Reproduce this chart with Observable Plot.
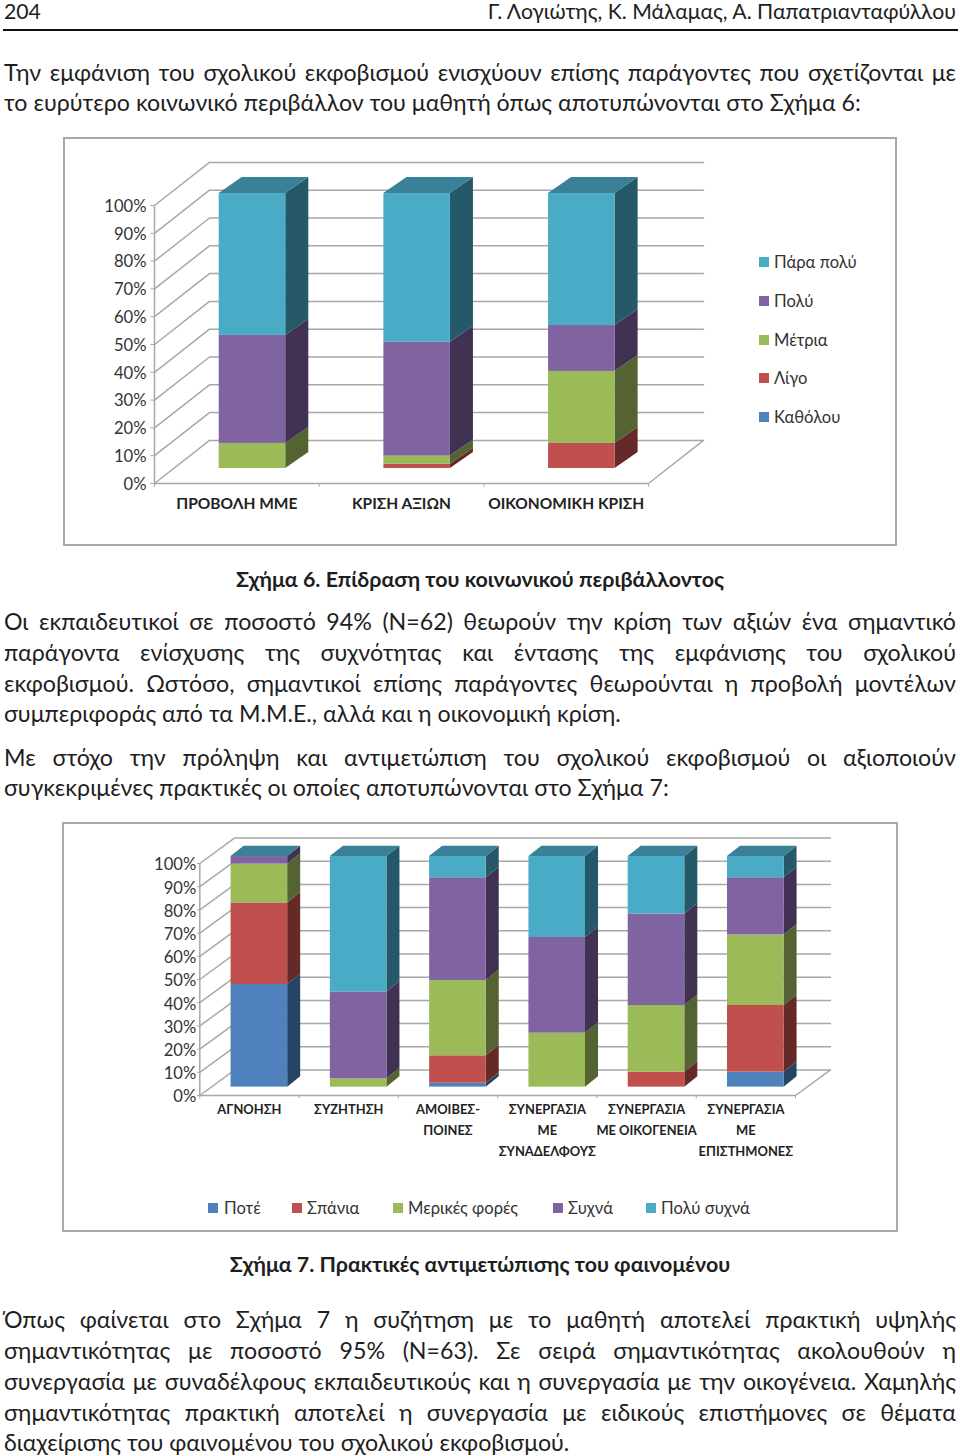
<!DOCTYPE html>
<html lang="el"><head><meta charset="utf-8">
<script src="https://cdn.jsdelivr.net/npm/d3@7"></script>
<script src="https://cdn.jsdelivr.net/npm/@observablehq/plot@0.6"></script>
<style>
html,body{margin:0;padding:0;background:#fff;}
body{position:relative;width:960px;height:1456px;overflow:hidden;font-family:Lato,"Open Sans",sans-serif;color:#1e1e1e;}
.l{position:absolute;left:4px;width:952px;white-space:nowrap;font-size:23.2px;line-height:30px;text-align:justify;text-align-last:justify;}
.n{text-align-last:left;}
.h{font-size:21.2px;line-height:22px;top:0;}
.c{text-align-last:center;font-weight:700;font-size:21.4px;}
.frame{position:absolute;box-sizing:border-box;border:2px solid #a9a9a9;background:#fff;}
.chart{position:absolute;}
.chart svg{display:block;overflow:visible;background:transparent;}
.sw{position:absolute;width:10px;height:10px;}
.lt{position:absolute;font-size:16.6px;line-height:20px;white-space:nowrap;color:#333;}
</style></head><body>
<div class="l n h">204</div>
<div class="l n h" style="text-align-last:right">Γ. Λογιώτης, Κ. Μάλαμας, Α. Παπατριανταφύλλου</div>
<div style="position:absolute;left:3px;top:29px;width:955px;height:2px;background:#111"></div>
<div class="l" style="top:57px">Την εμφάνιση του σχολικού εκφοβισμού ενισχύουν επίσης παράγοντες που σχετίζονται με</div>
<div class="l n" style="top:87px">το ευρύτερο κοινωνικό περιβάλλον του μαθητή όπως αποτυπώνονται στο Σχήμα 6:</div>
<div class="frame" style="left:63px;top:137px;width:834px;height:409px"></div>
<div class="chart" id="chart6" style="left:63px;top:137px"></div>
<div id="legend6"></div>
<div class="l c" style="top:564px">Σχήμα 6. Επίδραση του κοινωνικού περιβάλλοντος</div>
<div class="l" style="top:606px">Οι εκπαιδευτικοί σε ποσοστό 94% (Ν=62) θεωρούν την κρίση των αξιών ένα σημαντικό</div>
<div class="l" style="top:637px">παράγοντα ενίσχυσης της συχνότητας και έντασης της εμφάνισης του σχολικού</div>
<div class="l" style="top:668px">εκφοβισμού. Ωστόσο, σημαντικοί επίσης παράγοντες θεωρούνται η προβολή μοντέλων</div>
<div class="l n" style="top:698px">συμπεριφοράς από τα Μ.Μ.Ε., αλλά και η οικονομική κρίση.</div>
<div class="l" style="top:742px">Με στόχο την πρόληψη και αντιμετώπιση του σχολικού εκφοβισμού οι αξιοποιούν</div>
<div class="l n" style="top:772px">συγκεκριμένες πρακτικές οι οποίες αποτυπώνονται στο Σχήμα 7:</div>
<div class="frame" style="left:62px;top:822px;width:836px;height:410px"></div>
<div class="chart" id="chart7" style="left:62px;top:822px"></div>
<div id="legend7"></div>
<div class="l c" style="top:1249px">Σχήμα 7. Πρακτικές αντιμετώπισης του φαινομένου</div>
<div class="l" style="top:1304px">Όπως φαίνεται στο Σχήμα 7 η συζήτηση με το μαθητή αποτελεί πρακτική υψηλής</div>
<div class="l" style="top:1335px">σημαντικότητας με ποσοστό 95% (Ν=63). Σε σειρά σημαντικότητας ακολουθούν η</div>
<div class="l" style="top:1366px">συνεργασία με συναδέλφους εκπαιδευτικούς και η συνεργασία με την οικογένεια. Χαμηλής</div>
<div class="l" style="top:1397px">σημαντικότητας πρακτική αποτελεί η συνεργασία με ειδικούς επιστήμονες σε θέματα</div>
<div class="l n" style="top:1427px">διαχείρισης του φαινομένου του σχολικού εκφοβισμού.</div>
<script>
// ---- Palette (one shade per series, bottom of the stack first)
const frontColors = ["#4f81bd", "#c0504d", "#9bbb59", "#8064a2", "#4aabc6"];
const sideColors  = ["#254565", "#652a28", "#536331", "#413153", "#25596a"];
const topColor = "#3a8099";
const gridColor = "#a8a8a8";
const yTicks = [0, 10, 20, 30, 40, 50, 60, 70, 80, 90, 100];

// ---- Figure 6
const fig6Categories = ["ΠΡΟΒΟΛΗ ΜΜΕ", "ΚΡΙΣΗ ΑΞΙΩΝ", "ΟΙΚΟΝΟΜΙΚΗ ΚΡΙΣΗ"];
const fig6Series = ["Καθόλου", "Λίγο", "Μέτρια", "Πολύ", "Πάρα πολύ"];
const fig6Katholou = [0, 0, 0];
const fig6Ligo     = [0, 1.5, 9.1];
const fig6Metria   = [9.1, 3, 26.2];
const fig6Poly     = [39.3, 41.4, 16.7];
const fig6ParaPoly = [51.6, 54.1, 48];

// ---- Figure 7
const fig7Categories = ["ΑΓΝΟΗΣΗ", "ΣΥΖΗΤΗΣΗ", "ΑΜΟΙΒΕΣ-\nΠΟΙΝΕΣ", "ΣΥΝΕΡΓΑΣΙΑ\nΜΕ\nΣΥΝΑΔΕΛΦΟΥΣ", "ΣΥΝΕΡΓΑΣΙΑ\nΜΕ ΟΙΚΟΓΕΝΕΙΑ", "ΣΥΝΕΡΓΑΣΙΑ\nΜΕ\nΕΠΙΣΤΗΜΟΝΕΣ"];
const fig7Series = ["Ποτέ", "Σπάνια", "Μερικές φορές", "Συχνά", "Πολύ συχνά"];
const fig7Pote    = [44.5, 0, 1.7, 0, 0, 6.5];
const fig7Spania  = [35.4, 0, 11.9, 0, 6.5, 28.9];
const fig7Merikes = [16.8, 3.6, 32.6, 23.4, 28.9, 30.6];
const fig7Sychna  = [3.3, 37.7, 44.6, 41.5, 39.7, 24.8];
const fig7PolySy  = [0, 58.7, 9.2, 35.1, 24.9, 9.2];

function chart3d({categories, series, w, h, xRange, yRange, wallX, wallY, barOffset, barHalf, barBase, barScale, barDX, barDY, axisFont, axisPad, axisDy, labelFont, labelY, labelLH}) {
  const n = categories.length;
  const grid = yTicks.flatMap(v => [
    {id: v, x: 0, y: v},
    {id: v, x: wallX, y: v + wallY},
    {id: v, x: n + wallX, y: v + wallY}
  ]);
  const floorEdge = [{x: n, y: 0}, {x: n + wallX, y: wallY}];
  const segs = [], sides = [], tops = [];
  categories.forEach((cat, c) => {
    let acc = 0;
    const x1 = c + barOffset - barHalf, x2 = c + barOffset + barHalf;
    series.forEach((vals, s) => {
      const v = vals[c];
      const y1 = barBase + acc * barScale, y2 = barBase + (acc + v) * barScale;
      acc += v;
      if (v <= 0) return;
      segs.push({x1, x2, y1, y2, fill: frontColors[s]});
      sides.push({id: `${c}-${s}`, fill: sideColors[s], x: x2, y1, y2});
      sides.push({id: `${c}-${s}`, fill: sideColors[s], x: x2 + barDX, y1: y1 + barDY, y2: y2 + barDY});
    });
    const t = barBase + 100 * barScale;
    tops.push({id: c, x1, x2, y: t});
    tops.push({id: c, x1: x1 + barDX, x2: x2 + barDX, y: t + barDY});
  });
  const ticksX = d3.range(n + 1);
  return Plot.plot({
    width: w, height: h,
    marginLeft: xRange[0], marginRight: 0, marginTop: 0, marginBottom: 0,
    style: {background: "transparent", fontFamily: "Lato, 'Open Sans', sans-serif"},
    x: {type: "linear", domain: [0, n], range: xRange, axis: null},
    y: {type: "linear", domain: [0, 100], range: yRange, axis: null},
    marks: [
      Plot.line(grid, {x: "x", y: "y", z: "id", stroke: gridColor, strokeWidth: 1.5}),
      Plot.line(floorEdge, {x: "x", y: "y", stroke: gridColor, strokeWidth: 1.5}),
      Plot.ruleX([0], {y1: 0, y2: 100, stroke: gridColor, strokeWidth: 1.5}),
      Plot.ruleY([0], {x1: 0, x2: n, stroke: gridColor, strokeWidth: 1.5}),
      Plot.ruleX(ticksX, {y1: 0, y2: -1.4, stroke: gridColor}),
      Plot.ruleY(yTicks, {x1: 0, x2: -0.022, stroke: gridColor}),
      Plot.area(sides, {x1: "x", y1: "y1", y2: "y2", z: "id", fill: "fill", curve: "linear"}),
      Plot.area(tops, {x1: "x1", x2: "x2", y1: "y", z: "id", fill: topColor, curve: "linear"}),
      Plot.rect(segs, {x1: "x1", x2: "x2", y1: "y1", y2: "y2", fill: "fill"}),
      Plot.axisY(yTicks, {anchor: "left", label: null, tickSize: 0, tickPadding: axisPad, tickFormat: d => d + "%", fontSize: axisFont, color: "#333", dy: axisDy}),
      Plot.text(categories, {x: (d, i) => i + 0.5, y: labelY, text: d => d, lineAnchor: "top", lineHeight: labelLH, fontSize: labelFont, fontWeight: 700, fill: "#222"})
    ]
  });
}

document.getElementById("chart6").append(chart3d({
  categories: fig6Categories,
  series: [fig6Katholou, fig6Ligo, fig6Metria, fig6Poly, fig6ParaPoly],
  w: 833, h: 408, xRange: [91, 585], yRange: [346, 68],
  wallX: 0.334, wallY: 15.5,
  barOffset: 0.595, barHalf: 0.202, barBase: 5.4, barScale: 0.989, barDX: 0.14, barDY: 5.76,
  axisFont: 16.6, axisPad: 8, axisDy: 1, labelFont: 15.5, labelY: -4.35, labelLH: 1.25
}));
document.getElementById("chart7").append(chart3d({
  categories: fig7Categories,
  series: [fig7Pote, fig7Spania, fig7Merikes, fig7Sychna, fig7PolySy],
  w: 835, h: 409, xRange: [137.3, 733], yRange: [273, 41],
  wallX: 0.352, wallY: 11,
  barOffset: 0.6, barHalf: 0.285, barBase: 3.6, barScale: 0.994, barDX: 0.131, barDY: 4.44,
  axisFont: 16.6, axisPad: 3.5, axisDy: 1.5, labelFont: 12.9, labelY: -1.6, labelLH: 1.63
}));

function legend(id, names, pos) {
  const host = document.getElementById(id);
  names.forEach((name, i) => {
    const [sx, tx, y, colorIndex] = pos[i];
    const sw = document.createElement("div");
    sw.className = "sw"; sw.style.left = sx + "px"; sw.style.top = (y - 5) + "px"; sw.style.background = frontColors[colorIndex];
    const t = document.createElement("div");
    t.className = "lt"; t.style.left = tx + "px"; t.style.top = (y - 10) + "px"; t.textContent = name;
    host.append(sw, t);
  });
}
legend("legend6", [...fig6Series].reverse(), [[759,774,262,4],[759,774,301,3],[759,774,340,2],[759,774,378,1],[759,774,417,0]]);
legend("legend7", fig7Series, [[208,224,1208,0],[292,307,1208,1],[393,408,1208,2],[553,568,1208,3],[646,661,1208,4]]);
</script>
</body></html>
